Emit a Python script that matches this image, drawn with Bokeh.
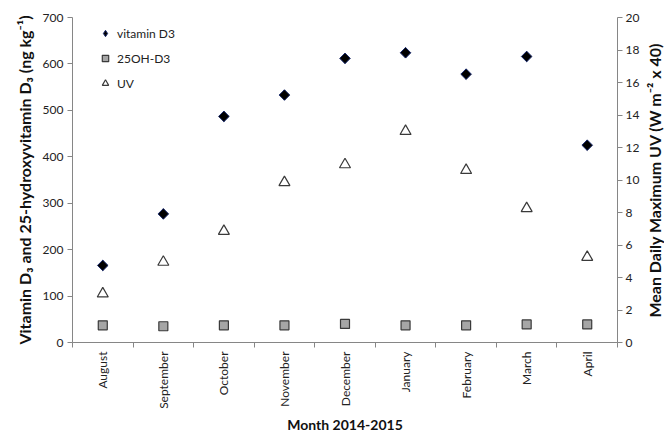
import numpy as np
from bokeh.plotting import figure
from bokeh.layouts import row
from bokeh.models import (Range1d, LinearAxis, FixedTicker, Legend, LegendItem,
                          ColumnDataSource)
from bokeh.embed import file_html
from bokeh.resources import INLINE

months = ["August", "September", "October", "November", "December",
          "January", "February", "March", "April"]
vitamin_d3 = [166, 277, 487, 533, 612, 624, 578, 616, 425]
oh_d3 = [37, 35, 37, 37, 40, 37, 37, 39, 39]
uv = [3.0, 4.95, 6.85, 9.85, 10.95, 13.0, 10.6, 8.25, 5.25]

xpos = np.arange(len(months)) + 0.5
src = ColumnDataSource(dict(x=xpos, vd=vitamin_d3, oh=oh_d3, uv=uv))

FONT = "Lato"
AX = "#868686"

p = figure(width=642, height=435, output_backend="svg", toolbar_location=None,
           x_range=Range1d(0, len(months)), y_range=Range1d(0, 700),
           min_border_left=72, min_border_right=0, min_border_top=17, min_border_bottom=93)
p.outline_line_color = None
p.grid.visible = False
p.extra_y_ranges = {"uv": Range1d(0, 20)}

# x axis
xa = p.xaxis[0]
xa.ticker = FixedTicker(ticks=list(xpos), minor_ticks=list(range(len(months) + 1)))
xa.major_label_overrides = {float(x): m for x, m in zip(xpos, months)}
xa.major_label_orientation = np.pi / 2
xa.major_tick_out = 0
xa.major_tick_in = 0
xa.minor_tick_out = 5
xa.minor_tick_in = 0
xa.axis_label = "Month 2014-2015"

# left y axis
ya = p.yaxis[0]
ya.ticker = FixedTicker(ticks=list(range(0, 701, 100)))
ya.axis_label = "Vitamin D\u2083 and 25-hydroxyvitamin D\u2083 (ng kg\u207b\u00b9)"
ya.major_tick_out = 5
ya.major_tick_in = 0

ra = LinearAxis(y_range_name="uv", ticker=FixedTicker(ticks=list(range(0, 21, 2))))
ra.major_tick_out = 5
ra.major_tick_in = 0
p.add_layout(ra, "right")

for ax in [xa, ya, ra]:
    ax.axis_line_color = AX
    ax.major_tick_line_color = AX
    ax.minor_tick_line_color = AX if ax is xa else None
    ax.major_label_text_font = FONT
    ax.major_label_text_font_size = "12px"
    ax.major_label_text_color = "#222222"
    ax.axis_label_text_font = FONT
    ax.axis_label_text_font_style = "bold"
    ax.axis_label_text_font_size = "14px" if ax is xa else "16px"
    ax.axis_label_text_color = "#111111"
    ax.major_label_standoff = 4
    ax.axis_label_standoff = 4
ya.axis_label_standoff = 6
ra.major_label_standoff = 3

# hidden diamond under each rotated-square point, used as the legend swatch
r1_key = p.scatter("x", "vd", source=src, marker="diamond", size=10,
                   fill_color="black", line_color="#1a2a6c", line_width=1)
r1 = p.scatter("x", "vd", source=src, marker="square", angle=np.pi / 4, size=7.5,
               fill_color="black", line_color="#1a2a6c", line_width=1)
r2 = p.scatter("x", "oh", source=src, marker="square", size=9,
               fill_color="#a6a6a6", line_color="#3a3a3a", line_width=1.2)
r3 = p.scatter("x", "uv", source=src, marker="triangle", size=11, y_range_name="uv",
               fill_color="white", line_color="#3a3a3a", line_width=1.2)

legend = Legend(items=[LegendItem(label="vitamin D3", renderers=[r1_key]),
                       LegendItem(label="25OH-D3", renderers=[r2]),
                       LegendItem(label="UV", renderers=[r3])],
                location=(25, 249), border_line_color=None, background_fill_alpha=0,
                padding=0, margin=0, spacing=5, label_height=20, glyph_height=20,
                glyph_width=16, label_standoff=4,
                label_text_font=FONT, label_text_font_size="12px", label_text_color="#222222")
p.add_layout(legend, "center")

# narrow companion figure carrying the right-hand axis title (reads bottom-to-top)
q = figure(width=22, height=435, output_backend="svg", toolbar_location=None,
           x_range=Range1d(0, 1), y_range=Range1d(0, 20),
           min_border_left=20, min_border_right=1, min_border_top=17, min_border_bottom=93)
q.outline_line_color = None
q.grid.visible = False
q.xaxis.visible = False
qa = q.yaxis[0]
qa.axis_label = "Mean Daily Maximum UV (W m\u207b\u00b2 x 40)"
qa.ticker = FixedTicker(ticks=[])
qa.axis_line_color = None
qa.major_tick_line_color = None
qa.minor_tick_line_color = None
qa.major_label_text_font_size = "0px"
qa.major_label_standoff = 0
qa.axis_label_standoff = 0
qa.axis_label_text_font = FONT
qa.axis_label_text_font_style = "bold"
qa.axis_label_text_font_size = "16px"
qa.axis_label_text_color = "#111111"

layout = row(p, q, spacing=0)
open("out.html", "w").write(file_html(layout, INLINE))
